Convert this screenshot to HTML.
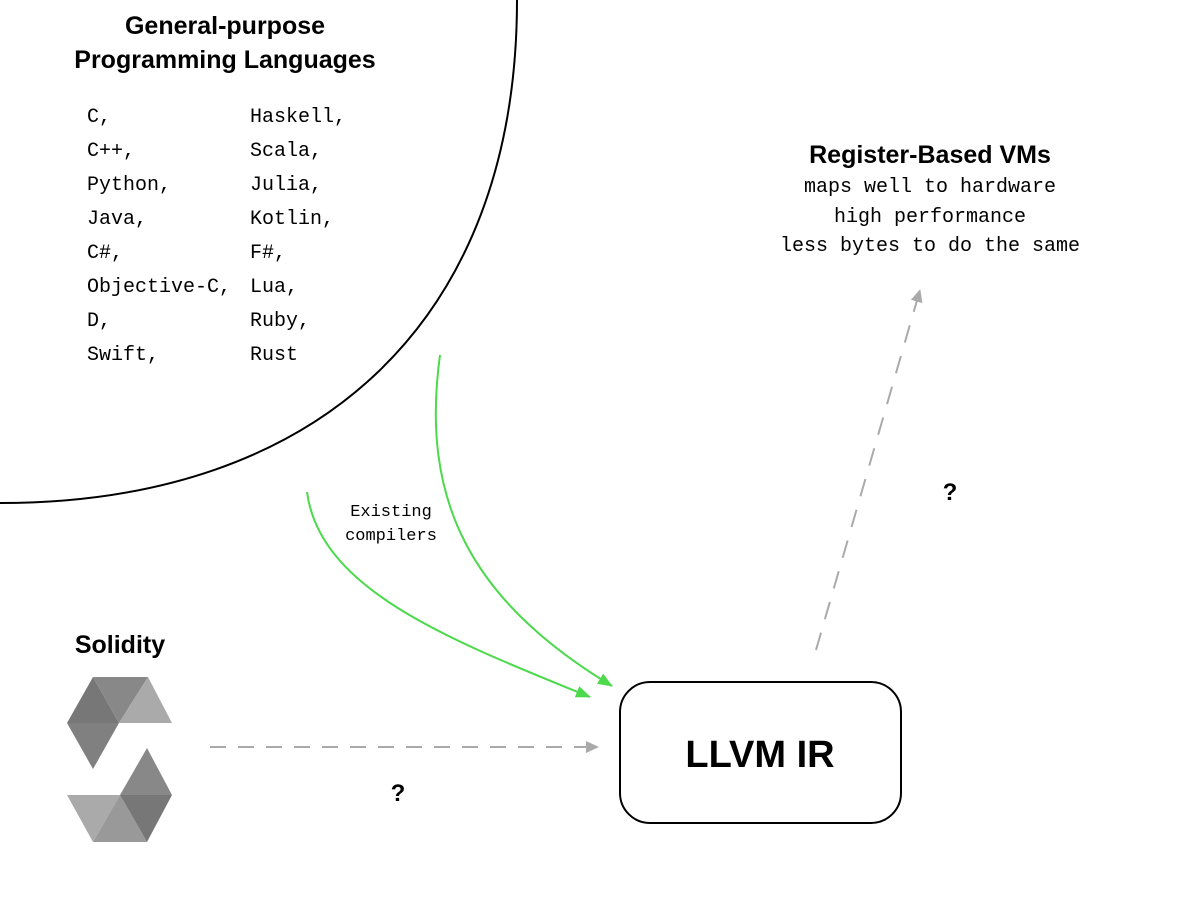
<!DOCTYPE html>
<html><head><style>
body{margin:0;width:1200px;height:900px;background:#fff;overflow:hidden;}
svg{display:block}
.m{font-family:"Liberation Mono",monospace;font-size:20px;fill:#000}
.b{font-family:"Liberation Sans",sans-serif;font-weight:bold;fill:#000}
</style></head><body>
<svg width="1200" height="900" viewBox="0 0 1200 900">
<defs>
<marker id="gr" markerWidth="14" markerHeight="12" refX="12" refY="6" orient="auto" markerUnits="userSpaceOnUse"><path d="M0,0 L13,6 L0,12z" fill="#aaa"/></marker>
<marker id="g2" markerWidth="16" markerHeight="12" refX="14" refY="6" orient="auto" markerUnits="userSpaceOnUse"><path d="M0,0 L15,6 L0,12z" fill="#4cd94c"/></marker>
</defs>
<path d="M517,0 C517,320 320,503 0,503" fill="none" stroke="#000" stroke-width="2"/>
<text class="b" x="225" y="34" font-size="25" text-anchor="middle">General-purpose</text>
<text class="b" x="225" y="68" font-size="25" text-anchor="middle">Programming Languages</text>
<g class="m">
<text x="87" y="122">C,</text><text x="87" y="156">C++,</text><text x="87" y="190">Python,</text><text x="87" y="224">Java,</text><text x="87" y="258">C#,</text><text x="87" y="292">Objective-C,</text><text x="87" y="326">D,</text><text x="87" y="360">Swift,</text>
<text x="250" y="122">Haskell,</text><text x="250" y="156">Scala,</text><text x="250" y="190">Julia,</text><text x="250" y="224">Kotlin,</text><text x="250" y="258">F#,</text><text x="250" y="292">Lua,</text><text x="250" y="326">Ruby,</text><text x="250" y="360">Rust</text>
</g>
<text class="b" x="930" y="163" font-size="25" text-anchor="middle">Register-Based VMs</text>
<text class="m" x="930" y="192" text-anchor="middle">maps well to hardware</text>
<text class="m" x="930" y="222" text-anchor="middle">high performance</text>
<text class="m" x="930" y="251" text-anchor="middle">less bytes to do the same</text>
<path d="M307,492 C320,590 450,640 590,697" fill="none" stroke="#4cd94c" stroke-width="2" marker-end="url(#g2)"/>
<path d="M440,355 C420,500 470,600 612,686" fill="none" stroke="#4cd94c" stroke-width="2" marker-end="url(#g2)"/>
<text font-family="Liberation Mono,monospace" font-size="17" x="391" y="516" text-anchor="middle">Existing</text>
<text font-family="Liberation Mono,monospace" font-size="17" x="391" y="540" text-anchor="middle">compilers</text>
<path d="M816,650 L920,290" fill="none" stroke="#aaa" stroke-width="2" stroke-dasharray="18,14" marker-end="url(#gr)"/>
<text class="b" x="950" y="500" font-size="24" text-anchor="middle">?</text>
<path d="M210,747 L598,747" fill="none" stroke="#aaa" stroke-width="2" stroke-dasharray="16,12" marker-end="url(#gr)"/>
<text class="b" x="398" y="801" font-size="24" text-anchor="middle">?</text>
<rect x="620" y="682" width="281" height="141" rx="30" fill="#fff" stroke="#000" stroke-width="2"/>
<text class="b" x="760" y="767" font-size="38" text-anchor="middle">LLVM IR</text>
<text class="b" x="120" y="653" font-size="25" text-anchor="middle">Solidity</text>
<polygon points="93,677 67,723 119,723" fill="#777"/>
<polygon points="93,677 148,677 119,723" fill="#888"/>
<polygon points="148,677 172,723 119,723" fill="#aaa"/>
<polygon points="67,723 119,723 93,769" fill="#808080"/>
<polygon points="147,748 120,795 172,795" fill="#888"/>
<polygon points="67,795 120,795 93,842" fill="#aaa"/>
<polygon points="120,795 93,842 147,842" fill="#999"/>
<polygon points="120,795 172,795 147,842" fill="#777"/>
</svg>
</body></html>
